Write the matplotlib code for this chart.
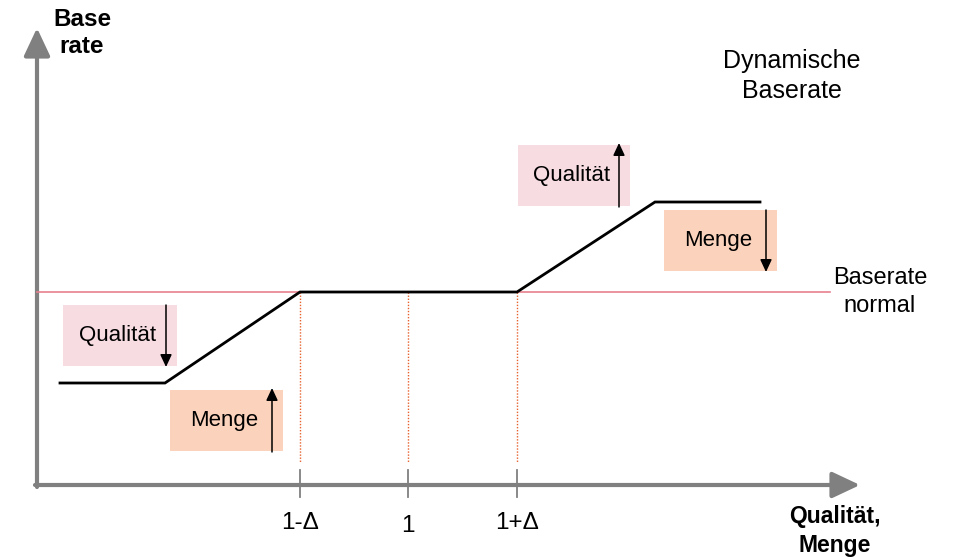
import matplotlib
matplotlib.use("Agg")
import matplotlib.pyplot as plt
from matplotlib.patches import Rectangle, FancyArrowPatch

plt.rcParams['font.family'] = ['Liberation Sans', 'DejaVu Sans']

# diagram coordinates (pixel-like units, y grows downward)
curve_x = [60, 165, 300, 517, 655, 760]
curve_y = [383, 383, 292, 292, 202, 202]
baseline_y = 292
tick_x = [300, 408, 517]
tick_labels = ['1-Δ', '1', '1+Δ']

# boxes
box_labels = ['Qualität', 'Menge', 'Qualität', 'Menge']
box_x0 = [518, 664, 63, 170]
box_y0 = [145, 210, 305, 390]
box_x1 = [630, 777, 177, 283]
box_y1 = [206, 271, 366, 451]
box_arrow_up = [True, False, False, True]
pink = '#f7dce2'
orange = '#fbd3bc'
box_colors = [pink, orange, pink, orange]

fig = plt.figure(figsize=(9.61, 5.58), dpi=100)
ax = fig.add_axes([0, 0, 1, 1])
ax.set_xlim(0, 961)
ax.set_ylim(558, 0)
ax.axis('off')

grey = '#808080'

# axes arrows
head = '-|>,head_length=1.7,head_width=0.8'
ax.add_patch(FancyArrowPatch((37, 487), (37, 28), arrowstyle=head,
                             mutation_scale=10, color=grey, lw=3, shrinkA=0, shrinkB=0))
ax.add_patch(FancyArrowPatch((35, 485), (860, 485), arrowstyle=head,
                             mutation_scale=10, color=grey, lw=3, shrinkA=0, shrinkB=0))

# baserate normal line
ax.plot([37, 830], [baseline_y, baseline_y], color='#e8808f', lw=1.2, zorder=2)

# dotted verticals + ticks
for x, lab in zip(tick_x, tick_labels):
    ax.plot([x, x], [baseline_y, 463], color='#e8602c', lw=1, ls=(0, (1, 1.2)), zorder=1)
    ax.plot([x, x], [470, 497], color=grey, lw=1.3, zorder=3)
    ax.text(x, 523 if lab != '1' else 526, lab, ha='center', va='center', fontsize=17.5)

# boxes
for x0, y0, x1, y1, lab, c, up in zip(box_x0, box_y0, box_x1, box_y1, box_labels, box_colors, box_arrow_up):
    ax.add_patch(Rectangle((x0, y0), x1 - x0, y1 - y0, facecolor=c, edgecolor='none', zorder=1))
    ax_x = x1 - 11
    start, end = ((ax_x, y1 + 1), (ax_x, y0 - 2)) if up else ((ax_x, y0), (ax_x, y1 + 1))
    ax.add_patch(FancyArrowPatch(start, end, arrowstyle='-|>,head_length=0.75,head_width=0.35',
                                 mutation_scale=10, color='black', lw=1.1, shrinkA=0, shrinkB=0, zorder=4))
    ax.text((x0 + ax_x) / 2 + 3, (y0 + y1) / 2, lab, ha='center', va='center', fontsize=16)

# curve
ax.plot(curve_x, curve_y, color='black', lw=2, zorder=3, solid_joinstyle='miter')

# labels
ax.text(82, 33, 'Base\nrate', ha='center', va='center', fontsize=17.5, fontweight='bold', linespacing=1.2)
ax.text(792, 76, 'Dynamische\nBaserate', ha='center', va='center', fontsize=18, linespacing=1.28)
ax.text(880, 292, 'Baserate\nnormal', ha='center', va='center', fontsize=17, linespacing=1.3)
ax.text(835, 531, 'Qualität,\nMenge', ha='center', va='center', fontsize=16.5, fontweight='bold', linespacing=1.35)

fig.savefig('out.png', dpi=100)
